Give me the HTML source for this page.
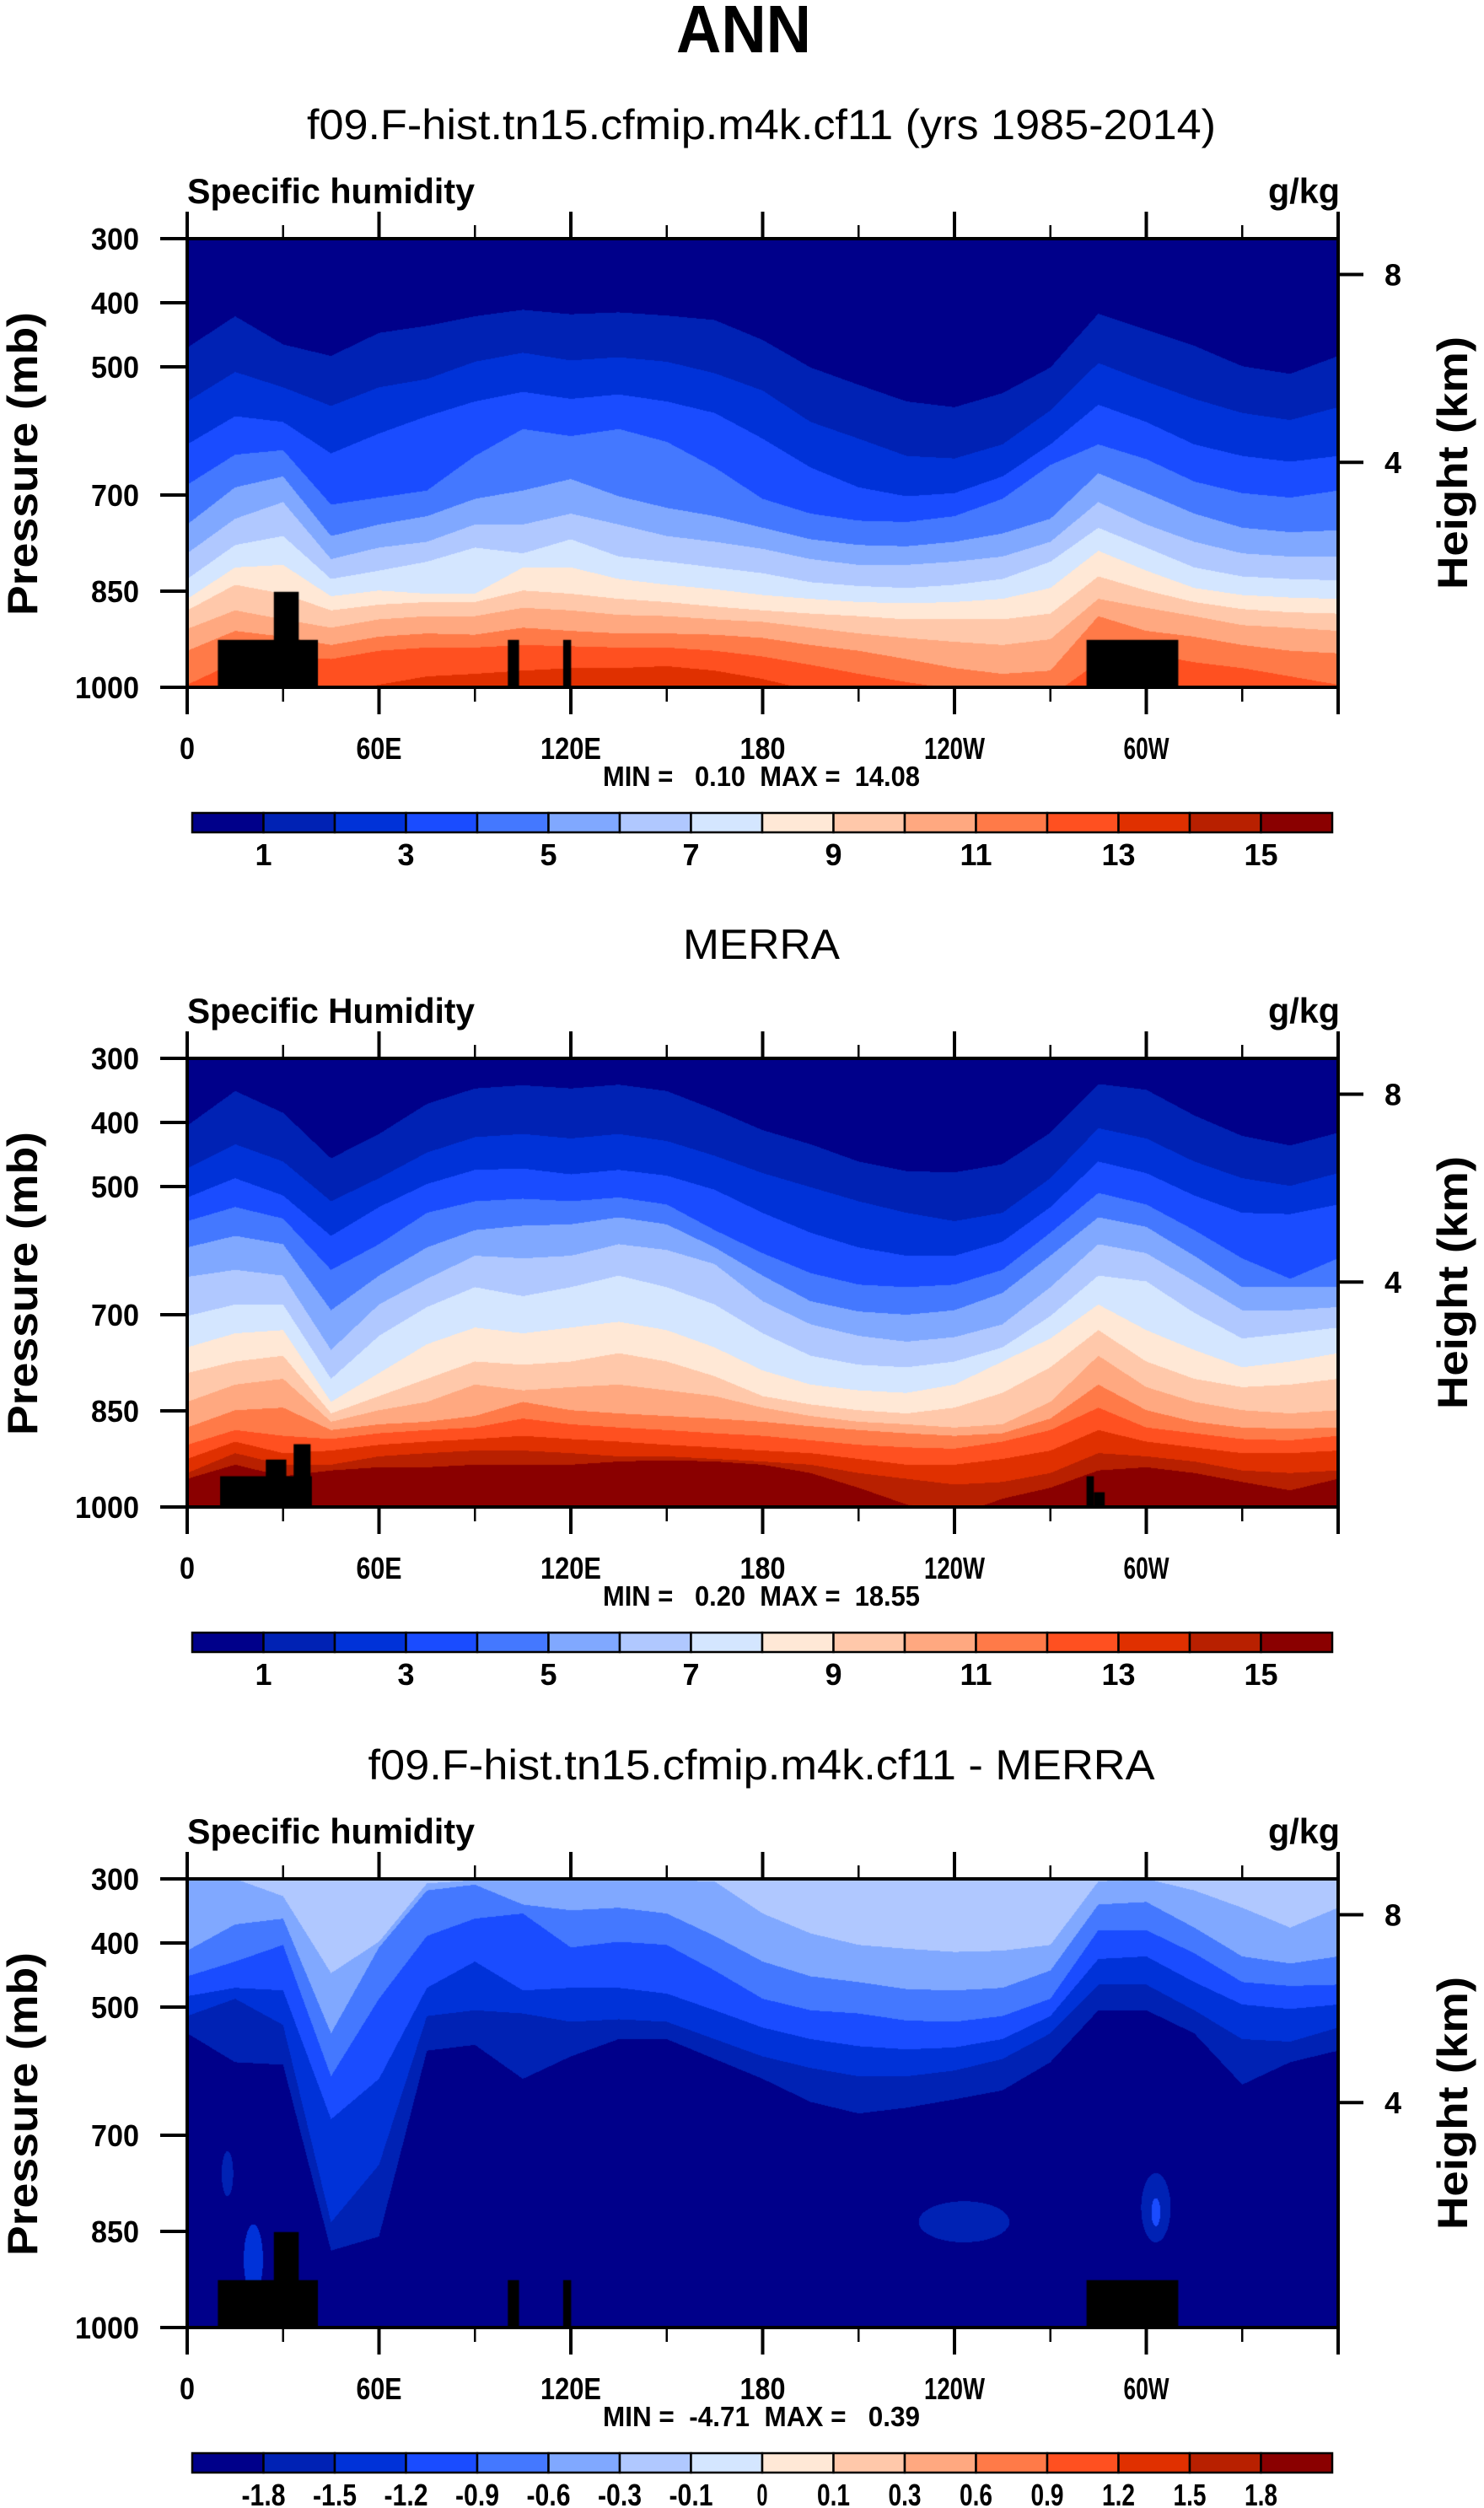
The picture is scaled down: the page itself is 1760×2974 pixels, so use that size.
<!DOCTYPE html>
<html><head><meta charset="utf-8">
<style>
html,body{margin:0;padding:0;background:#fff;}
#root{position:relative;width:1760px;height:2974px;overflow:hidden;background:#fff;}
canvas{position:absolute;left:222px;}
svg{position:absolute;left:0;top:0;}
text{font-family:"Liberation Sans",Arial,sans-serif;fill:#000;white-space:pre;}
</style></head>
<body>
<div id="root">
<canvas id="c0" width="1365" height="532" style="top:283px"></canvas>
<canvas id="c1" width="1365" height="532" style="top:1255px"></canvas>
<canvas id="c2" width="1365" height="532" style="top:2228px"></canvas>
<svg id="svg" width="1760" height="2974" xmlns="http://www.w3.org/2000/svg"></svg>
</div>
<script>
// ---------- data ----------
const lonGrid = [0,15,30,45,60,75,90,105,120,135,150,165,180,195,210,225,240,255,270,285,300,315,330,345,360];
const xTickLon = [0,60,120,180,240,300];
const xTickLabels = ["0","60E","120E","180","120W","60W"];
const xMinorLon = [30,90,150,210,270,330];
const pTicks = [300,400,500,700,850,1000];
const hTicks = [8,4];
const hTickP = [356,649];
const qLevelLabels = ["1","3","5","7","9","11","13","15"];
const qLevelLabelIdx = [1,3,5,7,9,11,13,15];
const dLevelLabels = ["-1.8","-1.5","-1.2","-0.9","-0.6","-0.3","-0.1","0","0.1","0.3","0.6","0.9","1.2","1.5","1.8"];
const palette = ["#00008a","#0022b4","#0032d8","#1a4cff","#4478ff","#80a8ff","#b0c8ff","#d4e6ff","#ffe8d6","#ffc8aa","#ffa880","#ff7a48","#ff5020","#e03000","#b82000","#8a0000"];

// pressure (hPa) of each contour level per longitude (model, q = 1..15 g/kg)
const modelContourP = [
[470,421,465,483,447,436,421,411,418,415,420,427,458,501,528,554,563,541,501,417,442,467,499,511,483],
[554,508,532,561,532,519,492,478,490,485,492,510,537,586,612,639,643,621,568,494,523,550,572,583,563],
[621,577,586,635,604,577,554,539,550,543,554,572,612,657,688,702,697,671,621,559,586,621,639,648,639],
[684,637,630,715,704,693,639,597,608,597,617,657,706,729,740,742,733,706,653,621,644,679,697,704,693],
[746,688,671,764,746,733,706,693,675,702,720,733,751,769,778,780,773,760,737,666,697,729,751,758,755],
[791,737,711,800,782,773,746,746,729,746,764,773,784,800,809,809,804,796,773,711,746,773,791,796,796],
[831,778,764,831,818,804,782,791,769,796,804,813,822,836,842,845,840,831,804,751,782,813,827,831,833],
[862,813,809,858,849,854,854,813,813,831,840,847,856,862,867,869,867,862,845,787,818,845,856,860,862],
[880,840,854,880,871,867,867,849,854,862,867,874,880,885,889,894,894,894,885,827,849,867,878,883,885],
[909,880,894,907,894,889,889,876,880,887,889,894,898,907,916,923,929,934,925,862,876,889,903,907,912],
[943,912,921,934,921,916,918,907,912,916,916,918,923,934,943,956,970,979,974,889,912,921,934,943,947],
[996,961,952,956,943,938,938,934,936,938,938,943,952,965,979,992,1003,1014,1014,961,947,961,970,983,996],
[1014,1014,1014,1014,996,983,979,974,970,970,967,974,987,1005,1014,1014,1014,1014,1014,1014,1014,1014,1014,1014,1014],
[1020,1020,1020,1020,1020,1020,1020,1020,1020,1020,1020,1020,1020,1020,1020,1020,1020,1020,1020,1020,1020,1020,1020,1020,1020],
[1020,1020,1020,1020,1020,1020,1020,1020,1020,1020,1020,1020,1020,1020,1020,1020,1020,1020,1020,1020,1020,1020,1020,1020,1020]
];
// MERRA, q = 1..15 g/kg
const merraContourP = [
[405,351,385,456,418,371,347,342,347,341,351,380,412,434,461,476,478,465,416,340,349,389,421,436,416],
[472,434,461,523,487,447,423,418,425,418,429,452,479,501,523,541,554,541,487,409,425,461,487,499,479],
[517,487,514,577,532,496,474,472,481,474,483,505,541,572,595,608,608,586,532,461,479,514,541,543,528],
[554,532,550,630,590,541,523,519,523,517,528,568,604,635,653,657,653,630,572,510,528,568,612,644,612],
[595,577,590,693,639,595,568,561,559,548,559,595,639,679,695,700,693,666,608,548,563,608,657,657,657],
[641,630,639,755,684,644,608,612,608,590,599,621,679,715,733,742,735,715,657,590,604,648,693,693,688],
[702,684,684,800,733,688,657,671,657,639,657,684,729,764,778,782,773,751,702,639,648,697,737,729,720],
[751,729,724,836,791,746,720,729,720,711,724,751,787,809,818,822,809,773,737,684,724,755,782,773,760],
[791,773,764,854,827,800,773,778,773,760,773,796,827,840,849,854,845,822,782,724,773,800,813,809,800],
[836,809,800,867,849,836,809,818,813,809,818,827,845,858,867,871,876,871,836,764,813,836,849,854,849],
[876,849,845,880,871,867,858,836,849,854,858,862,867,874,880,885,889,885,862,809,849,867,876,878,876],
[903,880,889,894,885,880,876,862,871,876,880,885,889,896,903,907,909,898,880,845,876,885,894,896,889],
[925,898,916,912,903,898,894,889,894,898,903,907,912,916,925,934,934,925,912,880,898,907,916,916,912],
[947,916,934,934,921,916,912,912,916,921,921,925,929,934,947,956,965,961,947,916,921,929,943,947,943],
[956,934,952,943,938,938,934,934,934,929,927,929,934,947,970,996,1014,987,970,943,938,947,961,974,956]
];
// difference, contours from top: -0.1,-0.3,-0.6,-0.9,-1.2,-1.5 (value decreases downward)
const diffContourP = [
[300,300,327,447,398,307,302,302,302,302,302,304,354,385,403,409,414,412,403,304,300,318,345,376,345],
[412,371,362,541,407,318,309,340,349,345,354,389,429,452,461,472,474,470,443,340,336,376,421,432,421],
[452,429,403,608,487,389,362,354,407,398,403,443,487,505,510,521,523,514,487,380,380,416,461,467,465],
[483,470,474,675,612,470,429,474,470,470,479,505,532,550,561,566,563,550,514,425,421,461,496,503,496],
[514,487,528,836,746,514,505,510,523,519,523,550,577,595,608,608,599,581,541,465,465,505,550,554,532],
[541,586,590,880,858,568,559,612,577,550,550,581,612,648,666,657,644,630,586,505,505,541,621,586,568]
];
// isolated anomaly patches: lon, pressure, lon half-width, pressure half-height, color index
const diffPatchLon = [243,303,303,12.6,20.7];
const diffPatchP = [835,813,820,760,894];
const diffPatchDLon = [14.2,4.6,1.4,1.8,3];
const diffPatchDP = [32,54,22,35,55];
const diffPatchIdx = [1,1,3,1,2];
// topography (missing data) blocks: lon west, lon east, top pressure
const topoW1 = [9.6,27.1,100.3,117.6,281.3];
const topoE1 = [40.9,34.9,103.8,120.1,310];
const topoP1 = [926,851,926,926,926];
const topoW2 = [10.3,24.6,33.3,281.3,283.6];
const topoE2 = [39,31,38.6,283.6,287];
const topoP2 = [952,926,902,952,977];

// ---------- scales ----------
const PX0=222, PW=1365, PH=532;
const panelTop=[283,1255,2228];
function xS(lon){return PX0 + lon/360*PW;}
function yS(p,T){return T + (p-300)/700*PH;}

// ---------- fields ----------
function drawField(id, bounds, mode, patches, tw, te, tp){
  const cv=document.getElementById(id), ctx=cv.getContext('2d');
  const img=ctx.createImageData(PW,PH), d=img.data;
  const rgb=palette.map(h=>[parseInt(h.substr(1,2),16),parseInt(h.substr(3,2),16),parseInt(h.substr(5,2),16)]);
  const nb=bounds.length, bp=new Array(nb);
  for(let x=0;x<PW;x++){
    const lon=(x+0.5)/PW*360;
    let i=Math.min(Math.floor(lon/15),lonGrid.length-2);
    const t=(lon-lonGrid[i])/(lonGrid[i+1]-lonGrid[i]);
    for(let k=0;k<nb;k++) bp[k]=bounds[k][i]*(1-t)+bounds[k][i+1]*t;
    for(let y=0;y<PH;y++){
      const p=300+(y+0.5)/PH*700;
      let c=0; for(let k=0;k<nb;k++) if(bp[k]<p) c++;
      let idx = mode==='up' ? c : Math.max(0,6-c);
      if(patches){
        for(let j=0;j<patches.lon.length;j++){
          const a=(lon-patches.lon[j])/patches.dlon[j], b=(p-patches.p[j])/patches.dp[j];
          if(a*a+b*b<1) idx=Math.max(idx,patches.idx[j]);
        }
      }
      const o=(y*PW+x)*4; d[o]=rgb[idx][0];d[o+1]=rgb[idx][1];d[o+2]=rgb[idx][2];d[o+3]=255;
    }
  }
  ctx.putImageData(img,0,0);
  ctx.fillStyle='#000';
  for(let j=0;j<tw.length;j++){
    const x0=tw[j]/360*PW, x1=te[j]/360*PW, y0=(tp[j]-300)/700*PH;
    ctx.fillRect(x0,y0,x1-x0,PH-y0);
  }
}
drawField('c0',modelContourP,'up',null,topoW1,topoE1,topoP1);
drawField('c1',merraContourP,'up',null,topoW2,topoE2,topoP2);
drawField('c2',diffContourP,'down',{lon:diffPatchLon,p:diffPatchP,dlon:diffPatchDLon,dp:diffPatchDP,idx:diffPatchIdx},topoW1,topoE1,topoP1);

// ---------- svg overlay ----------
const NS='http://www.w3.org/2000/svg', svg=document.getElementById('svg');
function el(tag,attrs,parent){const e=document.createElementNS(NS,tag);for(const k in attrs)e.setAttribute(k,attrs[k]);(parent||svg).appendChild(e);return e;}
function txt(s,attrs,parent){const e=el('text',attrs,parent);e.textContent=s;return e;}

const titles=[
 {s:"f09.F-hist.tn15.cfmip.m4k.cf11 (yrs 1985-2014)",len:1078},
 {s:"MERRA",len:186},
 {s:"f09.F-hist.tn15.cfmip.m4k.cf11 - MERRA",len:933}];
const leftTitles=["Specific humidity","Specific Humidity","Specific humidity"];
const minmax=["MIN =   0.10  MAX =  14.08","MIN =   0.20  MAX =  18.55","MIN =  -4.71  MAX =   0.39"];

const ann=txt("ANN",{x:882,y:62,'text-anchor':'middle','font-size':80,'font-weight':'bold',textLength:160,lengthAdjust:'spacingAndGlyphs'});



for(let n=0;n<3;n++){
  const T=panelTop[n];
  const g=el('g',{});
  
  
  const tt=txt(titles[n].s,{x:903,y:T-118,'text-anchor':'middle','font-size':50,textLength:titles[n].len,lengthAdjust:'spacingAndGlyphs'},g);
  
  
  const lt=txt(leftTitles[n],{x:222,y:T-42,'font-size':42,'font-weight':'bold',textLength:341,lengthAdjust:'spacingAndGlyphs'},g);
  
  
  const ut=txt("g/kg",{x:1589,y:T-42,'text-anchor':'end','font-size':42,'font-weight':'bold',textLength:85,lengthAdjust:'spacingAndGlyphs'},g);
  
  
  const fr=el('rect',{x:PX0,y:T,width:PW,height:PH,fill:'none',stroke:'#000','stroke-width':4},g);
  
  
  for(let i=0;i<=6;i++){
    const x=xS(i*60);
    el('line',{x1:x,y1:T,x2:x,y2:T-32,stroke:'#000','stroke-width':4},g);
    el('line',{x1:x,y1:T+PH,x2:x,y2:T+PH+32,stroke:'#000','stroke-width':4},g);
  }
  xMinorLon.forEach(lon=>{const x=xS(lon);
    el('line',{x1:x,y1:T,x2:x,y2:T-16,stroke:'#000','stroke-width':2.5},g);
    el('line',{x1:x,y1:T+PH,x2:x,y2:T+PH+17,stroke:'#000','stroke-width':2.5},g);});
  xTickLon.forEach((lon,i)=>{
    const l=txt(xTickLabels[i],{x:xS(lon),y:T+617,'text-anchor':'middle','font-size':36,'font-weight':'bold',textLength:xTickLabels[i].length*18,lengthAdjust:'spacingAndGlyphs'},g);
    
    
  });
  pTicks.forEach(p=>{const y=yS(p,T);
    el('line',{x1:PX0,y1:y,x2:PX0-32,y2:y,stroke:'#000','stroke-width':4},g);
    const s=String(p);
    const l=txt(s,{x:165,y:y+13,'text-anchor':'end','font-size':36,'font-weight':'bold',textLength:s.length*19,lengthAdjust:'spacingAndGlyphs'},g);
    
    
  });
  hTicks.forEach((h,i)=>{const y=yS(hTickP[i],T);
    el('line',{x1:PX0+PW,y1:y,x2:PX0+PW+30,y2:y,stroke:'#000','stroke-width':4},g);
    const l=txt(String(h),{x:1652,y:y+13,'text-anchor':'middle','font-size':36,'font-weight':'bold'},g);
    
    
  });
  const yt=txt("Pressure (mb)",{x:0,y:0,'text-anchor':'middle','font-size':50,'font-weight':'bold',textLength:360,lengthAdjust:'spacingAndGlyphs',transform:`translate(44,${T+267}) rotate(-90)`},g);
  
  
  const ht=txt("Height (km)",{x:0,y:0,'text-anchor':'middle','font-size':50,'font-weight':'bold',textLength:300,lengthAdjust:'spacingAndGlyphs',transform:`translate(1740,${T+266}) rotate(-90)`},g);
  
  
  const mm=txt(minmax[n],{x:903,y:T+649,'text-anchor':'middle','font-size':33,'font-weight':'bold',textLength:376,lengthAdjust:'spacingAndGlyphs'},g);
  
  
  const cb=el('g',{},g);
  
  
  const cx0=228, cw=1352/16, cy=T+681, ch=23;
  palette.forEach((c,i)=>{
    const r=el('rect',{x:cx0+i*cw,y:cy,width:cw,height:ch,fill:c,stroke:'#000','stroke-width':2.5},cb);
    
    
  });
  if(n<2){
    qLevelLabelIdx.forEach((b,i)=>{
      const l=txt(qLevelLabels[i],{x:cx0+b*cw,y:T+743,'text-anchor':'middle','font-size':36,'font-weight':'bold'},cb);
      
      
    });
  } else {
    dLevelLabels.forEach((s,i)=>{
      const x=cx0+(i+1)*cw;
      const l=txt(s,{x:x,y:T+743,'text-anchor':'middle','font-size':36,'font-weight':'bold',textLength:s.length*13,lengthAdjust:'spacingAndGlyphs'},cb);
      
      
    });
  }
}
</script>
</body></html>
